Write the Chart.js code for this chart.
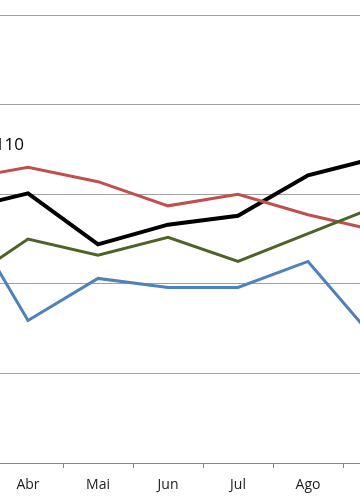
<!DOCTYPE html>
<html>
<head>
<meta charset="utf-8">
<script src="https://cdn.jsdelivr.net/npm/chart.js@4/dist/chart.umd.min.js"></script>
<style>
  html, body { margin: 0; padding: 0; background: #fff; overflow: hidden; width: 360px; height: 504px; }
  #wrap { position: absolute; left: -77px; top: 0; width: 490px; height: 504px; }
</style>
</head>
<body>
<div id="wrap"><canvas id="chart"></canvas></div>
<script>
const months = ['Mar', 'Abr', 'Mai', 'Jun', 'Jul', 'Ago', 'Set'];
const blackSeries = [28.2, 30.1, 24.4, 26.6, 27.6, 32.1, 34.1];
const redSeries = [31.6, 33.0, 31.4, 28.7, 30.0, 27.7, 25.9];
const greenSeries = [19.7, 25.0, 23.2, 25.2, 22.5, 25.6, 28.7];
const blueSeries = [29.2, 15.9, 20.6, 19.6, 19.6, 22.5, 13.4];
const yTicks = { min: 0, max: 50, step: 10 };
const noteText = '110';
const noteValue = 35.5;

// the small "110" text above the lines, anchored to the Abr column
const notePlugin = {
  id: 'note',
  afterDatasetsDraw(chart) {
    const { ctx, scales } = chart;
    const x = scales.x.getPixelForValue(1) - 4;
    const y = scales.y.getPixelForValue(noteValue);
    ctx.save();
    ctx.font = '17px "Open Sans"';
    ctx.fillStyle = '#000';
    ctx.textAlign = 'right';
    ctx.textBaseline = 'middle';
    ctx.fillText(noteText, x, y);
    ctx.restore();
  }
};

function line(data, color, width) {
  return {
    data,
    borderColor: color,
    backgroundColor: color,
    borderWidth: width,
    pointRadius: 0,
    tension: 0,
    fill: false
  };
}

new Chart(document.getElementById('chart'), {
  type: 'line',
  data: {
    labels: months,
    datasets: [
      line(blueSeries, '#4f81bd', 3),
      line(greenSeries, '#4f6228', 3),
      line(redSeries, '#c0504d', 3),
      line(blackSeries, '#000000', 4)
    ]
  },
  options: {
    responsive: true,
    maintainAspectRatio: false,
    animation: false,
    layout: { padding: { top: 15, left: 0, right: 0, bottom: 0 } },
    plugins: {
      legend: { display: false },
      tooltip: { enabled: false }
    },
    scales: {
      x: {
        offset: true,
        afterFit: s => { s.height = 41; },
        grid: { offset: true, drawOnChartArea: false, drawTicks: true, tickLength: 5, color: '#868686' },
        border: { color: '#868686', width: 1 },
        ticks: { padding: 9, color: '#222', font: { family: 'Open Sans', size: 14 }, maxRotation: 0, autoSkip: false }
      },
      y: {
        min: yTicks.min,
        max: yTicks.max,
        afterFit: s => { s.width = 0; },
        ticks: { display: false, stepSize: yTicks.step },
        grid: { drawTicks: false, color: '#a0a0a0', lineWidth: 1 },
        border: { display: false }
      }
    }
  },
  plugins: [notePlugin]
});
</script>
</body>
</html>
